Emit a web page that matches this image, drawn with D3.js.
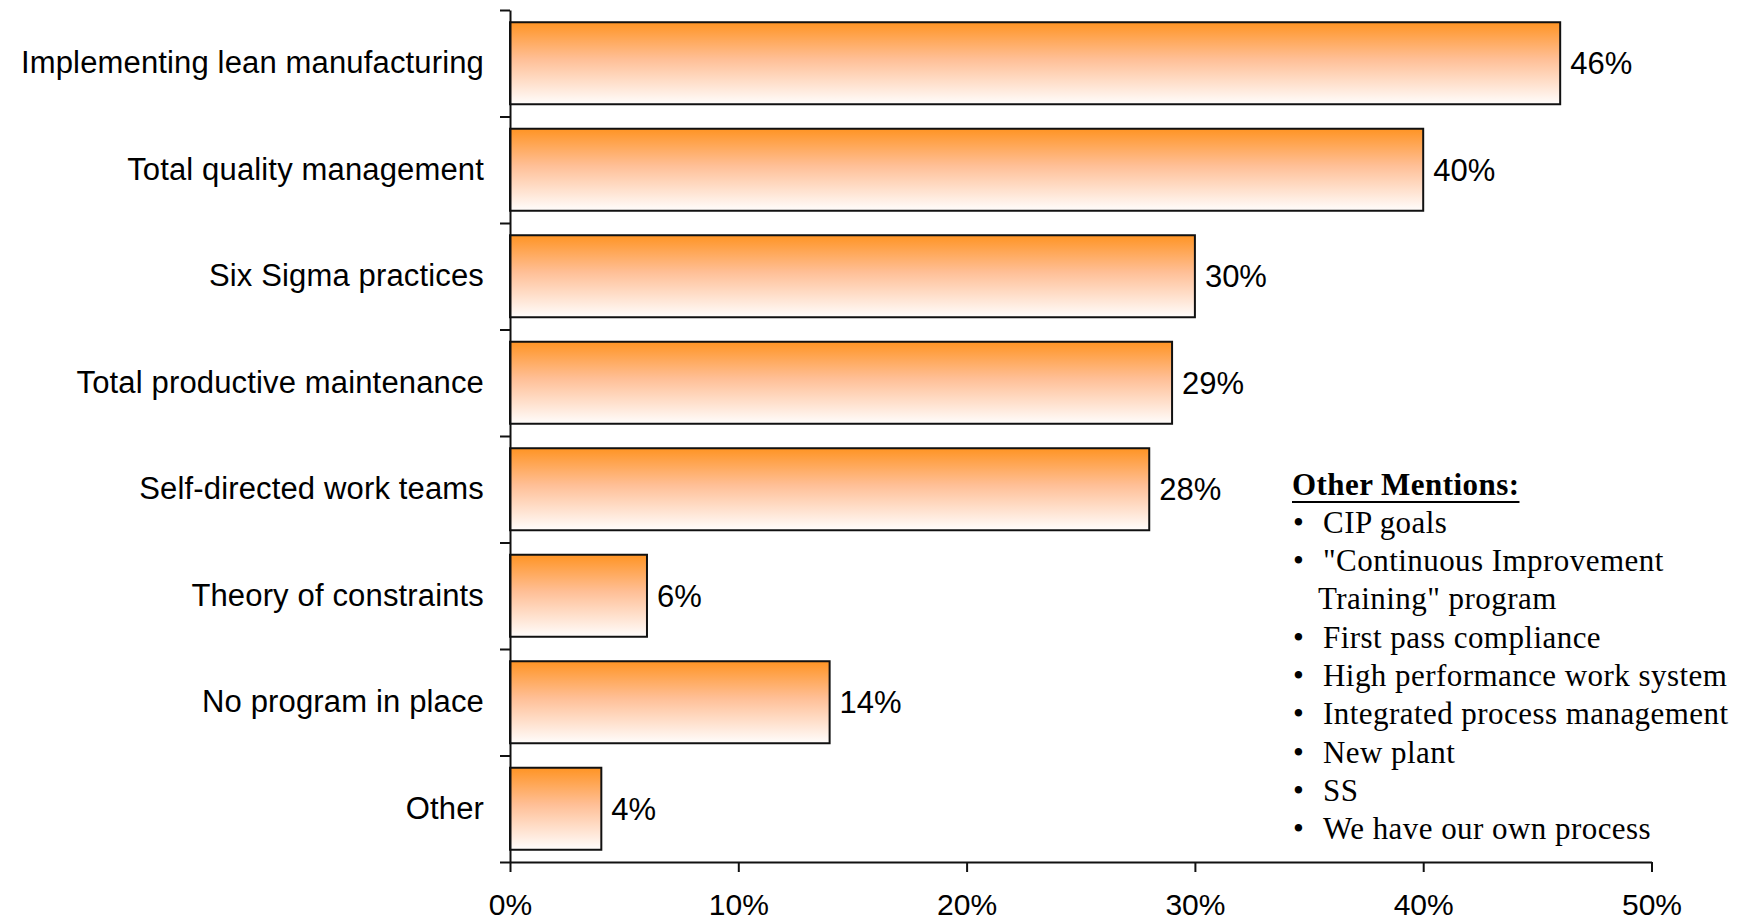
<!DOCTYPE html>
<html>
<head>
<meta charset="utf-8">
<script src="https://cdn.jsdelivr.net/npm/d3@7"></script>
<style>
  html, body { margin: 0; padding: 0; background: #fff; }
  svg { display: block; }
</style>
</head>
<body>
<svg id="chart" width="1750" height="922"></svg>
<script>
// Improvement programs in place (share of respondents)
const categories = [
  "Implementing lean manufacturing",
  "Total quality management",
  "Six Sigma practices",
  "Total productive maintenance",
  "Self-directed work teams",
  "Theory of constraints",
  "No program in place",
  "Other"
];
const values = [0.46, 0.40, 0.30, 0.29, 0.28, 0.06, 0.14, 0.04];
const xTicks = [0, 0.1, 0.2, 0.3, 0.4, 0.5];

// "Other" write-in answers; an entry may wrap onto a second line
const otherTitle = "Other Mentions:";
const otherMentions = [
  ["CIP goals"],
  ["\"Continuous Improvement", "Training\" program"],
  ["First pass compliance"],
  ["High performance work system"],
  ["Integrated process management"],
  ["New plant"],
  ["SS"],
  ["We have our own process"]
];

const svg = d3.select("#chart");
const sans = "'Liberation Sans', Arial, sans-serif";
const serif = "'Liberation Serif', 'Times New Roman', serif";

const plot = { left: 510, right: 1651.5, top: 10, bottom: 862 };

const x = d3.scaleLinear().domain([0, 0.5]).range([plot.left, plot.right]);
const y = d3.scaleBand().domain(categories)
  .range([plot.top, plot.bottom])
  .paddingInner(0.23).paddingOuter(0.115);

// Bar fill: orange at the top fading to white at the bottom
const defs = svg.append("defs");
const grad = defs.append("linearGradient")
  .attr("id", "barFill").attr("x1", 0).attr("y1", 0).attr("x2", 0).attr("y2", 1);
grad.append("stop").attr("offset", "0%").attr("stop-color", "#ff9424");
grad.append("stop").attr("offset", "45%").attr("stop-color", "#ffbf96");
grad.append("stop").attr("offset", "100%").attr("stop-color", "#fffdfc");

const rows = categories.map((c, i) => ({ cat: c, val: values[i] }));

// Bars
svg.append("g").selectAll("rect").data(rows).join("rect")
  .attr("x", x(0))
  .attr("y", d => y(d.cat))
  .attr("width", d => x(d.val) - x(0))
  .attr("height", y.bandwidth())
  .attr("fill", "url(#barFill)")
  .attr("stroke", "#111")
  .attr("stroke-width", 2);

// Value labels
svg.append("g").selectAll("text").data(rows).join("text")
  .attr("x", d => x(d.val) + 10)
  .attr("y", d => y(d.cat) + y.bandwidth() / 2)
  .attr("dy", "0.35em")
  .attr("font-family", sans)
  .attr("font-size", 31)
  .attr("fill", "#000")
  .text(d => d3.format(".0%")(d.val));

// Category labels
svg.append("g").selectAll("text").data(rows).join("text")
  .attr("x", 484)
  .attr("y", d => y(d.cat) + y.bandwidth() / 2)
  .attr("dy", "0.32em")
  .attr("text-anchor", "end")
  .attr("font-family", sans)
  .attr("font-size", 31)
  .attr("letter-spacing", 0.15)
  .attr("fill", "#000")
  .text(d => d.cat);

// Y axis with ticks between categories
const yEdges = d3.scaleLinear().domain([0, categories.length]).range([plot.top, plot.bottom]);
const yAxis = svg.append("g")
  .attr("transform", `translate(${plot.left},0)`)
  .call(d3.axisLeft(yEdges).tickValues(d3.range(categories.length + 1))
    .tickFormat("").tickSizeInner(10).tickSizeOuter(0));
yAxis.selectAll("path, line").attr("stroke", "#111").attr("stroke-width", 2);

// X axis
const xAxis = svg.append("g")
  .attr("transform", `translate(0,${plot.bottom})`)
  .call(d3.axisBottom(x).tickValues(xTicks).tickFormat(d3.format(".0%"))
    .tickSizeInner(10).tickSizeOuter(0).tickPadding(21.5));
xAxis.selectAll("path, line").attr("stroke", "#111").attr("stroke-width", 2);
xAxis.selectAll("text")
  .attr("font-family", sans)
  .attr("font-size", 30)
  .attr("fill", "#000");

// "Other Mentions" note
const note = svg.append("g").attr("font-family", serif).attr("font-size", 31)
  .attr("letter-spacing", 0.45).attr("fill", "#000");
const lineH = 38.3;
const noteX = 1292, noteY = 494.5;
const title = note.append("text")
  .attr("x", noteX).attr("y", noteY)
  .attr("font-weight", "bold")
  .text(otherTitle);
const tw = title.node().getComputedTextLength();
note.append("line")
  .attr("x1", noteX).attr("x2", noteX + tw)
  .attr("y1", noteY + 7.5).attr("y2", noteY + 7.5)
  .attr("stroke", "#000").attr("stroke-width", 2);

let lineIdx = 1;
otherMentions.forEach(item => {
  item.forEach((ln, j) => {
    const yy = noteY + lineIdx * lineH;
    if (j === 0) {
      note.append("text").attr("x", noteX + 1).attr("y", yy).text("\u2022");
      note.append("text").attr("x", noteX + 31).attr("y", yy).text(ln);
    } else {
      note.append("text").attr("x", noteX + 26).attr("y", yy).text(ln);
    }
    lineIdx++;
  });
});
</script>
</body>
</html>
